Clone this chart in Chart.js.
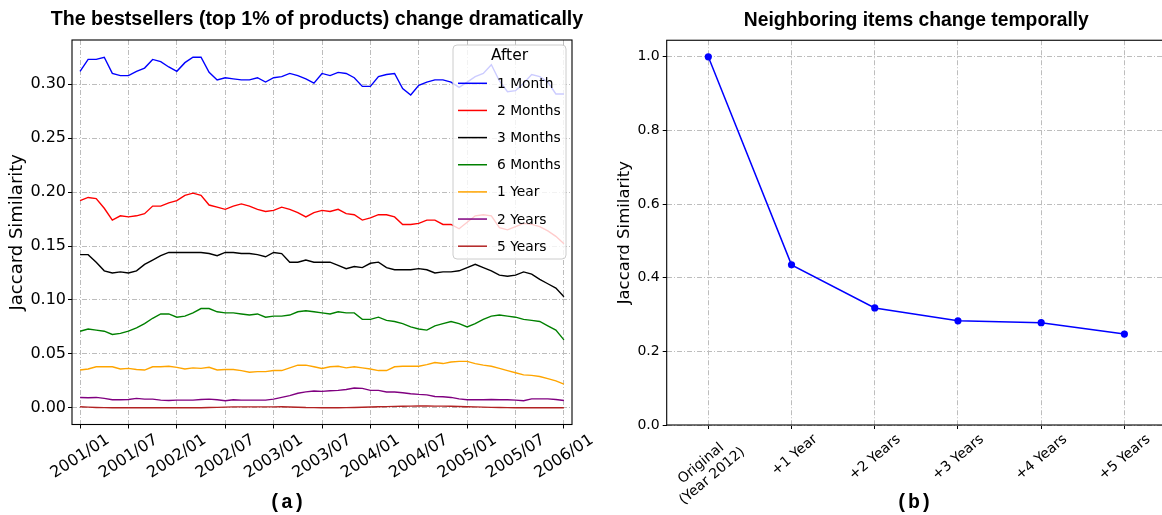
<!DOCTYPE html>
<html>
<head>
<meta charset="utf-8">
<script src="https://cdn.jsdelivr.net/npm/chart.js@4.4.1/dist/chart.umd.min.js"></script>
<style>
  html, body { margin: 0; padding: 0; background: #fff; overflow: hidden; width: 1162px; height: 515px; }
  .panel { position: absolute; top: 0; height: 515px; }
  #panelA { left: 0; width: 634px; }
  #panelB { left: 590px; width: 580px; }
  .caption {
    position: absolute; top: 491px; height: 24px; line-height: 24px;
    transform: translateX(-50%); white-space: nowrap;
    font: bold 20px "Liberation Mono", monospace; color: #000;
  }
  #capA { left: 287px; }
  #capB { left: 914px; }
</style>
</head>
<body>
<div class="panel" id="panelA"><canvas id="chartA" width="634" height="515"></canvas></div>
<div class="panel" id="panelB"><canvas id="chartB" width="580" height="515"></canvas></div>
<div class="caption" id="capA">(a)</div>
<div class="caption" id="capB">(b)</div>
<script>
// ---- (a) Jaccard similarity of the bestseller set vs. the same set after a horizon, monthly 2001/01–2006/01
const horizonLabels = ['1 Month', '2 Months', '3 Months', '6 Months', '1 Year', '2 Years', '5 Years'];

const oneMonth = [
  0.312, 0.323, 0.323, 0.325, 0.310, 0.308, 0.308, 0.312, 0.315, 0.323,
  0.321, 0.316, 0.312, 0.320, 0.325, 0.325, 0.311, 0.304, 0.306, 0.305,
  0.304, 0.304, 0.306, 0.302, 0.306, 0.307, 0.310, 0.308, 0.305, 0.301,
  0.310, 0.308, 0.311, 0.310, 0.306, 0.298, 0.298, 0.307, 0.309, 0.310,
  0.296, 0.290, 0.299, 0.302, 0.304, 0.304, 0.302, 0.297, 0.302, 0.307,
  0.310, 0.318, 0.303, 0.293, 0.294, 0.301, 0.309, 0.307, 0.302, 0.291,
  0.291
];
const twoMonths = [
  0.192, 0.195, 0.194, 0.185, 0.174, 0.178, 0.177, 0.178, 0.180, 0.187,
  0.187, 0.190, 0.192, 0.197, 0.199, 0.197, 0.188, 0.186, 0.184, 0.187,
  0.189, 0.187, 0.184, 0.182, 0.183, 0.186, 0.184, 0.181, 0.177, 0.181,
  0.183, 0.182, 0.184, 0.180, 0.179, 0.174, 0.176, 0.179, 0.179, 0.177,
  0.170, 0.170, 0.171, 0.174, 0.174, 0.170, 0.170, 0.166, 0.172, 0.178,
  0.179, 0.178, 0.167, 0.165, 0.168, 0.171, 0.170, 0.168, 0.164, 0.159,
  0.152
];
const threeMonths = [
  0.142, 0.142, 0.135, 0.127, 0.125, 0.126, 0.125, 0.127, 0.133, 0.137,
  0.141, 0.144, 0.144, 0.144, 0.144, 0.144, 0.143, 0.141, 0.144, 0.144,
  0.143, 0.143, 0.142, 0.140, 0.144, 0.143, 0.135, 0.135, 0.137, 0.135,
  0.135, 0.135, 0.132, 0.129, 0.131, 0.130, 0.134, 0.135, 0.130, 0.128,
  0.128, 0.128, 0.129, 0.128, 0.125, 0.126, 0.126, 0.127, 0.130, 0.133,
  0.130, 0.127, 0.123, 0.122, 0.123, 0.126, 0.124, 0.119, 0.115, 0.111,
  0.103
];
const sixMonths = [
  0.071, 0.073, 0.072, 0.071, 0.068, 0.069, 0.071, 0.074, 0.078, 0.083,
  0.087, 0.087, 0.084, 0.085, 0.088, 0.092, 0.092, 0.089, 0.088, 0.088,
  0.087, 0.086, 0.087, 0.084, 0.085, 0.085, 0.086, 0.089, 0.090, 0.089,
  0.088, 0.087, 0.089, 0.088, 0.088, 0.082, 0.082, 0.084, 0.081, 0.080,
  0.078, 0.075, 0.073, 0.072, 0.076, 0.078, 0.080, 0.078, 0.075, 0.078,
  0.082, 0.085, 0.086, 0.085, 0.084, 0.082, 0.081, 0.080, 0.076, 0.072,
  0.063
];
const oneYear = [
  0.0350, 0.0360, 0.0380, 0.0380, 0.0380, 0.0360, 0.0365, 0.0355, 0.0350, 0.0380,
  0.0380, 0.0385, 0.0375, 0.0360, 0.0370, 0.0365, 0.0375, 0.0350, 0.0355, 0.0355,
  0.0345, 0.0330, 0.0335, 0.0335, 0.0345, 0.0345, 0.0370, 0.0395, 0.0395, 0.0380,
  0.0365, 0.0380, 0.0385, 0.0370, 0.0380, 0.0370, 0.0360, 0.0345, 0.0345, 0.0380,
  0.0385, 0.0385, 0.0385, 0.0400, 0.0420, 0.0410, 0.0425, 0.0430, 0.0430, 0.0410,
  0.0395, 0.0385, 0.0365, 0.0345, 0.0325, 0.0305, 0.0300, 0.0290, 0.0270, 0.0250,
  0.0220
];
const twoYears = [
  0.0096, 0.0093, 0.0096, 0.0087, 0.0074, 0.0074, 0.0077, 0.0087, 0.0080, 0.0080,
  0.0071, 0.0068, 0.0071, 0.0071, 0.0071, 0.0077, 0.0080, 0.0074, 0.0065, 0.0074,
  0.0071, 0.0071, 0.0071, 0.0071, 0.0080, 0.0096, 0.0113, 0.0135, 0.0148, 0.0155,
  0.0152, 0.0158, 0.0161, 0.0170, 0.0183, 0.0180, 0.0161, 0.0161, 0.0146, 0.0146,
  0.0139, 0.0130, 0.0124, 0.0120, 0.0105, 0.0102, 0.0096, 0.0083, 0.0074, 0.0074,
  0.0074, 0.0077, 0.0074, 0.0074, 0.0071, 0.0065, 0.0083, 0.0083, 0.0083, 0.0077,
  0.0068
];
const fiveYears = [
  0.0009, 0.0006, 0.0003, 0.0001, 0.0000, 0.0000, 0.0000, 0.0000, 0.0000, 0.0000,
  0.0000, 0.0000, 0.0000, 0.0000, 0.0000, 0.0000, 0.0002, 0.0004, 0.0006, 0.0008,
  0.0008, 0.0008, 0.0008, 0.0008, 0.0008, 0.0009, 0.0007, 0.0005, 0.0002, 0.0001,
  0.0000, 0.0000, 0.0000, 0.0001, 0.0003, 0.0005, 0.0007, 0.0009, 0.0011, 0.0013,
  0.0014, 0.0015, 0.0016, 0.0016, 0.0015, 0.0015, 0.0014, 0.0012, 0.0010, 0.0008,
  0.0006, 0.0004, 0.0002, 0.0001, 0.0000, 0.0000, 0.0000, 0.0000, 0.0000, 0.0000,
  0.0000
];

// x positions are months since 2001/01
const xTickMonths = [0, 6, 12, 18, 24, 30, 36, 42, 48, 54, 60];
const xTickLabels = ['2001/01', '2001/07', '2002/01', '2002/07', '2003/01', '2003/07',
                     '2004/01', '2004/07', '2005/01', '2005/07', '2006/01'];
const yTicksA = [0.00, 0.05, 0.10, 0.15, 0.20, 0.25, 0.30];

// ---- (b) neighbouring-item overlap with the original neighbourhood
const neighborSteps = [['Original', '(Year 2012)'], '+1 Year', '+2 Years', '+3 Years', '+4 Years', '+5 Years'];
const neighborSimilarity = [1.0, 0.435, 0.318, 0.283, 0.278, 0.247];
const yTicksB = [0.0, 0.2, 0.4, 0.6, 0.8, 1.0];

// ---- styling
const seriesA = [oneMonth, twoMonths, threeMonths, sixMonths, oneYear, twoYears, fiveYears];
const lineColors = ['#0000ff', '#ff0000', '#000000', '#008000', '#ffa500', '#800080', '#b22222'];
const TICK_FONT = 'DejaVu Sans';
const GRID_COLOR = '#bdbdbd';
const GRID_DASH = [5, 2, 1, 2];

Chart.defaults.color = '#000';
Chart.defaults.font.family = TICK_FONT;

// black box around the plotting area
const axesFrame = {
  id: 'axesFrame',
  afterDraw(chart) {
    const { ctx, chartArea: a } = chart;
    ctx.save();
    ctx.strokeStyle = '#000';
    ctx.lineWidth = 1.1;
    ctx.strokeRect(a.left, a.top, a.right - a.left, a.bottom - a.top);
    ctx.restore();
  }
};

// semi-transparent legend placed inside the upper-right corner of the plot
const insetLegend = {
  id: 'insetLegend',
  afterDatasetsDraw(chart, args, o) {
    if (!o || !o.display) return;
    const { ctx, chartArea: a } = chart;
    const x0 = a.right - o.right - o.width;
    const y0 = a.top + o.top;
    const r = 4;
    ctx.save();
    ctx.beginPath();
    ctx.moveTo(x0 + r, y0);
    ctx.lineTo(x0 + o.width - r, y0);
    ctx.arcTo(x0 + o.width, y0, x0 + o.width, y0 + r, r);
    ctx.lineTo(x0 + o.width, y0 + o.height - r);
    ctx.arcTo(x0 + o.width, y0 + o.height, x0 + o.width - r, y0 + o.height, r);
    ctx.lineTo(x0 + r, y0 + o.height);
    ctx.arcTo(x0, y0 + o.height, x0, y0 + o.height - r, r);
    ctx.lineTo(x0, y0 + r);
    ctx.arcTo(x0, y0, x0 + r, y0, r);
    ctx.closePath();
    ctx.fillStyle = 'rgba(255,255,255,0.8)';
    ctx.fill();
    ctx.strokeStyle = '#cccccc';
    ctx.lineWidth = 1;
    ctx.stroke();

    ctx.fillStyle = '#000';
    ctx.textBaseline = 'middle';
    ctx.textAlign = 'center';
    ctx.font = o.titleSize + 'px "' + TICK_FONT + '"';
    ctx.fillText(o.title, x0 + o.width / 2, y0 + o.titleY);

    ctx.textAlign = 'left';
    ctx.font = o.itemSize + 'px "' + TICK_FONT + '"';
    chart.data.datasets.forEach((ds, k) => {
      const yy = y0 + o.firstRow + k * o.rowGap;
      ctx.strokeStyle = ds.borderColor;
      ctx.lineWidth = 1.5;
      ctx.beginPath();
      ctx.moveTo(x0 + o.handleX, yy);
      ctx.lineTo(x0 + o.handleX + o.handleLen, yy);
      ctx.stroke();
      ctx.fillText(ds.label, x0 + o.textX, yy + 1);
    });
    ctx.restore();
  }
};

function gridOpts() {
  return { color: GRID_COLOR, lineWidth: 1, tickColor: '#000', tickLength: 4, tickWidth: 1 };
}

// ---------- chart (a)
new Chart(document.getElementById('chartA'), {
  type: 'line',
  data: {
    datasets: seriesA.map((vals, k) => ({
      label: horizonLabels[k],
      data: vals.map((v, i) => ({ x: i, y: v })),
      borderColor: lineColors[k],
      backgroundColor: lineColors[k],
      borderWidth: 1.4,
      pointRadius: 0,
      tension: 0,
      fill: false
    }))
  },
  options: {
    responsive: false,
    animation: false,
    devicePixelRatio: 1,
    layout: { padding: 0 },
    plugins: {
      legend: { display: false },
      tooltip: { enabled: false },
      title: {
        display: true,
        text: 'The bestsellers (top 1% of products) change dramatically',
        fullSize: true,
        font: { family: 'Liberation Sans', weight: 'bold', size: 19.6 },
        color: '#000',
        padding: { top: 8.24, bottom: 8.24 }
      },
      insetLegend: {
        display: true, title: 'After', right: 6, top: 5, width: 113, height: 214,
        titleY: 11, titleSize: 15.5, itemSize: 13.8,
        firstRow: 38.3, rowGap: 27.15, handleX: 5, handleLen: 29, textX: 44
      }
    },
    scales: {
      x: {
        type: 'linear', min: -1, max: 61,
        afterBuildTicks: s => { s.ticks = xTickMonths.map(v => ({ value: v })); },
        afterFit: s => { s.height = 90.5; },
        grid: gridOpts(),
        border: { display: false, dash: GRID_DASH },
        ticks: {
          autoSkip: false, minRotation: 33, maxRotation: 33, labelOffset: 28, padding: 2,
          font: { family: TICK_FONT, size: 16 }, color: '#000',
          callback: (v, i) => xTickLabels[i]
        }
      },
      y: {
        type: 'linear', min: -0.0155, max: 0.341,
        afterBuildTicks: s => { s.ticks = yTicksA.map(v => ({ value: v })); },
        afterFit: s => { s.width = 72; },
        grid: gridOpts(),
        border: { display: false, dash: GRID_DASH },
        ticks: { padding: 2, font: { family: TICK_FONT, size: 16 }, color: '#000', callback: v => v.toFixed(2) },
        title: {
          display: true, text: 'Jaccard Similarity', color: '#000',
          font: { family: TICK_FONT, size: 18 }, padding: { top: 7, bottom: 0 }
        }
      },
      // empty strip on the right: room for the last date label, and it lets the title run wider than the plot
      yRightSpace: {
        type: 'linear', position: 'right', display: true,
        afterFit: s => { s.width = 62; },
        grid: { display: false, drawOnChartArea: false, drawTicks: false },
        border: { display: false },
        ticks: { display: false }
      }
    }
  },
  plugins: [insetLegend, axesFrame]
});

// pads the shorter lines of a multi-line tick label so the lines sit centred on each other
const measureCtx = document.createElement('canvas').getContext('2d');
function centreLines(lines, size) {
  measureCtx.font = size + 'px "' + TICK_FONT + '"';
  const widths = lines.map(l => measureCtx.measureText(l).width);
  const maxW = Math.max(...widths);
  const sp = measureCtx.measureText(' ').width;
  return lines.map((l, k) => l + ' '.repeat(Math.round((maxW - widths[k]) / 2 / sp)));
}

// ---------- chart (b)
new Chart(document.getElementById('chartB'), {
  type: 'line',
  data: {
    labels: neighborSteps,
    datasets: [{
      label: 'Jaccard Similarity',
      data: neighborSimilarity,
      borderColor: '#0000ff',
      backgroundColor: '#0000ff',
      borderWidth: 1.5,
      pointRadius: 3.6,
      pointBorderWidth: 0,
      pointBackgroundColor: '#0000ff',
      tension: 0,
      fill: false
    }]
  },
  options: {
    responsive: false,
    animation: false,
    devicePixelRatio: 1,
    layout: { padding: { left: 0, right: 3.3, top: 0, bottom: 0 } },
    plugins: {
      legend: { display: false },
      tooltip: { enabled: false },
      title: {
        display: true,
        text: 'Neighboring items change temporally',
        fullSize: false,
        font: { family: 'Liberation Sans', weight: 'bold', size: 19.3 },
        color: '#000',
        padding: { top: 8.7, bottom: 8.4 }
      }
    },
    scales: {
      x: {
        type: 'category', offset: true,
        afterFit: s => { s.height = 90; },
        grid: gridOpts(),
        border: { display: false, dash: GRID_DASH },
        ticks: {
          autoSkip: false, minRotation: 40, maxRotation: 40, labelOffset: 24, padding: 2,
          font: { family: TICK_FONT, size: 14 }, color: '#000',
          callback: function (v) {
            const l = this.getLabelForValue(v);
            return Array.isArray(l) ? centreLines(l, 14) : l;
          }
        }
      },
      y: {
        type: 'linear', min: 0, max: 1.045,
        afterBuildTicks: s => { s.ticks = yTicksB.map(v => ({ value: v })); },
        afterFit: s => { s.width = 76.7; },
        grid: gridOpts(),
        border: { display: false, dash: GRID_DASH },
        ticks: { padding: 3, font: { family: TICK_FONT, size: 14 }, color: '#000', callback: v => v.toFixed(1) },
        title: {
          display: true, text: 'Jaccard Similarity', color: '#000',
          font: { family: TICK_FONT, size: 16.5 }, padding: { top: 25, bottom: 0 }
        }
      }
    }
  },
  plugins: [axesFrame]
});
</script>
</body>
</html>
